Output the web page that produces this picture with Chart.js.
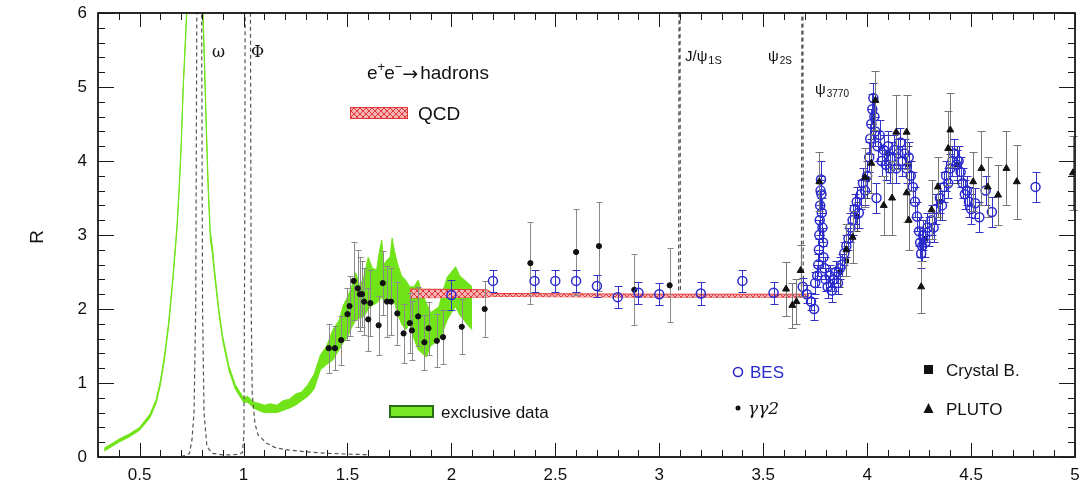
<!DOCTYPE html>
<html><head><meta charset="utf-8">
<script src="https://cdn.jsdelivr.net/npm/chart.js@4/dist/chart.umd.min.js"></script>
<style>html,body{margin:0;padding:0;background:#fff}#wrap{width:1081px;height:491px;position:relative}</style>
</head><body><div id="wrap"><canvas id="c"></canvas></div>
<script>
// ---------- data ----------
const xTicks = [0.5, 1, 1.5, 2, 2.5, 3, 3.5, 4, 4.5, 5];
const yTicks = [0, 1, 2, 3, 4, 5, 6];

// exclusive data band (upper / lower edge)
const greenX  = [0.33,0.36,0.40,0.45,0.50,0.55,0.58,0.60,0.62,0.64,0.66,0.68,0.69,0.70,0.71,0.72,0.73,0.75,0.78,0.80,0.81,0.82,0.83,0.84,0.85,0.86,0.88,0.90,0.93,0.96,1.00,1.02,1.05,1.08,1.10,1.13,1.16,1.19,1.22,1.25,1.28,1.31,1.34,1.37,1.40,1.43,1.46,1.48,1.50,1.52,1.54,1.56,1.58,1.60,1.62,1.64,1.655,1.665,1.675,1.69,1.705,1.715,1.725,1.74,1.76,1.78,1.80,1.82,1.84,1.86,1.88,1.90,1.92,1.94,1.96,1.98,2.00,2.02,2.04,2.06,2.08,2.10];
const greenHi = [0.12,0.17,0.24,0.31,0.40,0.58,0.78,1.03,1.38,1.83,2.43,3.13,3.63,4.23,5.03,5.63,6.25,7.5,7.8,6.4,5.6,4.6,3.7,3.05,2.85,2.55,2.03,1.63,1.23,0.98,0.80,0.82,0.74,0.72,0.70,0.72,0.70,0.76,0.78,0.85,0.88,0.98,1.12,1.38,1.50,1.72,1.85,2.05,2.16,2.30,2.49,2.30,2.45,2.70,2.55,2.53,2.80,2.93,2.60,2.66,2.70,2.96,2.80,2.62,2.45,2.39,2.30,2.30,2.39,2.20,2.08,1.95,1.99,2.03,2.25,2.43,2.50,2.57,2.45,2.40,2.35,2.30];
const greenLo = [0.08,0.13,0.20,0.27,0.36,0.53,0.73,0.97,1.32,1.77,2.37,3.07,3.57,4.17,4.97,5.57,6.15,7.4,7.7,6.3,5.5,4.5,3.6,2.95,2.75,2.47,1.97,1.57,1.17,0.92,0.74,0.74,0.66,0.62,0.60,0.60,0.60,0.63,0.66,0.70,0.76,0.82,0.92,1.18,1.25,1.31,1.45,1.55,1.62,1.75,1.85,1.88,1.90,2.00,2.05,2.08,2.12,2.16,2.10,2.08,2.12,2.16,2.10,1.95,1.80,1.72,1.80,1.60,1.45,1.40,1.35,1.50,1.54,1.58,1.70,1.85,1.95,2.03,1.92,1.85,1.78,1.72];

// QCD band
const qcdX  = [1.80, 2.17, 2.20, 3.00, 3.72];
const qcdHi = [2.27, 2.26, 2.21, 2.20, 2.20];
const qcdLo = [2.15, 2.16, 2.17, 2.16, 2.16];

// resonance curves (dashed): omega + phi, J/psi, psi(2S)
const bwX = [0.70,0.72,0.74,0.752,0.762,0.770,0.776,0.787,0.798,0.803,0.810,0.824,0.85,0.90,0.95,0.98,0.995,1.002,1.006,1.008,1.020,1.033,1.037,1.042,1.055,1.07,1.11,1.15,1.20,1.30,1.40,1.50,1.60];
const bwR = [0.01,0.02,0.05,0.23,0.6,2.0,6.5,10,6.5,2.0,0.6,0.14,0.05,0.03,0.03,0.04,0.06,0.3,3.0,6.5,12,6.5,2.0,0.85,0.45,0.3,0.19,0.13,0.1,0.07,0.05,0.04,0.03];
const jpsiX = [3.093, 3.096, 3.099, 3.102];
const jpsiR = [2.25, 8, 8, 2.25];
const psi2X = [3.684, 3.687, 3.690, 3.693];
const psi2R = [2.30, 8, 8, 2.30];

// BES
const besX = [2.00,2.20,2.40,2.50,2.60,2.70,2.80,2.90,3.00,3.20,3.40,3.55,3.69,3.71,3.73,3.745,3.75,
  3.76,3.765,3.768,3.770,3.772,3.774,3.776,3.778,3.780,3.782,3.785,3.788,3.790,3.795,
  3.80,3.81,3.82,3.83,3.84,3.85,3.86,3.87,3.88,3.89,3.90,3.91,3.92,3.93,3.94,3.95,3.96,3.97,3.98,3.99,4.00,
  4.01,4.015,4.02,4.025,4.03,4.035,4.04,4.045,4.05,4.06,4.07,4.08,4.09,4.10,4.11,4.12,4.13,4.14,4.15,4.16,4.17,4.18,4.19,4.20,4.21,4.22,
  4.23,4.24,4.25,4.255,4.26,4.265,4.27,4.28,4.29,4.30,4.31,4.32,4.33,4.35,4.36,4.37,4.38,4.39,4.40,4.41,4.42,4.43,4.44,4.45,4.46,4.47,4.48,4.49,4.50,4.52,4.54,4.57,4.60,4.81];
const besR = [2.19,2.38,2.38,2.38,2.38,2.31,2.16,2.22,2.20,2.21,2.38,2.22,2.30,2.20,2.10,2.00,2.35,
  2.45,2.60,2.80,3.00,3.20,3.40,3.60,3.75,3.55,3.30,3.10,2.90,2.70,2.55,
  2.40,2.30,2.45,2.25,2.40,2.50,2.35,2.55,2.60,2.75,2.85,2.95,3.10,3.20,3.35,3.45,3.30,3.55,3.70,3.60,3.80,
  4.05,4.30,4.50,4.70,4.85,4.60,4.40,3.50,4.20,4.35,4.00,4.15,3.95,4.20,3.90,4.05,4.15,3.90,4.10,4.25,4.00,4.10,3.90,4.05,3.80,3.65,
  3.45,3.25,3.05,2.90,2.75,2.85,3.00,2.90,3.10,3.05,3.20,3.10,3.35,3.50,3.40,3.65,3.80,3.70,3.90,4.00,4.10,3.95,4.00,3.85,3.70,3.55,3.60,3.45,3.35,3.43,3.24,3.60,3.31,3.65];
const besE = [0.20,0.15,0.15,0.15,0.15,0.15,0.15,0.15,0.15,0.15,0.15,0.15,0.12,0.12,0.12,0.15,0.15,
  0.15,0.15,0.15,0.20,0.20,0.20,0.20,0.25,0.20,0.20,0.20,0.20,0.15,0.15,
  0.15,0.15,0.15,0.15,0.15,0.15,0.15,0.15,0.15,0.15,0.15,0.15,0.20,0.20,0.20,0.20,0.20,0.20,0.20,0.20,0.20,
  0.20,0.20,0.20,0.20,0.20,0.20,0.20,0.20,0.20,0.20,0.20,0.20,0.20,0.20,0.20,0.20,0.20,0.20,0.20,0.20,0.20,0.20,0.20,0.20,0.20,0.20,
  0.20,0.20,0.20,0.20,0.20,0.20,0.20,0.20,0.20,0.20,0.20,0.20,0.20,0.20,0.20,0.20,0.20,0.20,0.20,0.20,0.20,0.20,0.20,0.20,0.20,0.20,0.20,0.20,0.20,0.20,0.20,0.20,0.20,0.20];

// gamma gamma 2
const ggX = [1.41,1.44,1.47,1.50,1.51,1.53,1.55,1.56,1.57,1.58,1.60,1.61,1.65,1.67,1.69,1.71,1.74,1.77,1.80,1.81,1.84,1.87,1.89,1.93,1.96,2.05,2.16,2.38,2.60,2.71,2.88,3.05];
const ggR = [1.47,1.47,1.58,1.93,2.04,2.38,2.28,2.20,2.20,2.10,1.86,2.08,1.78,2.35,2.10,2.10,1.94,1.67,1.81,1.71,1.90,1.55,1.74,1.57,1.62,1.76,2.00,2.62,2.77,2.85,2.26,2.32];
const ggE = [0.33,0.30,0.33,0.35,0.40,0.53,0.52,0.50,0.45,0.45,0.43,0.45,0.40,0.43,0.48,0.45,0.42,0.40,0.40,0.40,0.40,0.37,0.36,0.36,0.36,0.37,0.38,0.55,0.58,0.60,0.48,0.50];

// PLUTO
const plutoX = [3.61,3.64,3.66,3.68,3.77,3.90,3.93,3.99,4.02,4.04,4.08,4.12,4.14,4.19,4.19,4.20,4.26,4.31,4.34,4.39,4.40,4.51,4.55,4.58,4.63,4.67,4.72,4.99];
const plutoR = [2.27,2.05,2.10,2.52,3.72,2.80,2.97,3.78,3.97,4.82,3.40,3.50,4.39,4.39,3.57,3.20,2.30,3.34,3.65,4.17,4.42,3.72,3.90,3.65,3.54,3.90,3.72,3.84];
const plutoE = [0.37,0.30,0.30,0.35,0.40,0.35,0.35,0.40,0.40,0.40,0.40,0.50,0.50,0.50,0.40,0.40,0.35,0.40,0.40,0.50,0.50,0.40,0.50,0.40,0.40,0.50,0.50,0.50];

// Crystal Ball
const cbX = [3.87,3.90,3.95,4.00,4.03,4.10,4.20,4.28,4.35,4.43];
const cbR = [2.50,2.65,3.25,3.75,4.55,4.10,3.95,2.95,3.45,3.95];
const cbE = [0.20,0.20,0.20,0.25,0.25,0.25,0.25,0.25,0.25,0.25];

// ---------- helpers ----------
const pts = (xs, ys) => xs.map((x, i) => ({x: x, y: ys[i]}));
const FONT = '"Liberation Sans", Arial, Helvetica, sans-serif';

function hatch() {
  const c = document.createElement('canvas'); c.width = 6; c.height = 6;
  const g = c.getContext('2d');
  g.fillStyle = '#f7b3b3'; g.fillRect(0, 0, 6, 6);
  g.strokeStyle = '#e23a3a'; g.lineWidth = 1;
  g.beginPath(); g.moveTo(0, 6); g.lineTo(6, 0); g.moveTo(0, 0); g.lineTo(6, 6); g.stroke();
  return g.createPattern(c, 'repeat');
}
const QCDPAT = hatch();
const GREEN = 'rgb(112,228,24)';

// error bars, drawn just before each marker dataset (no clipping needed: all bars lie inside 0..6)
const errPlugin = {
  id: 'errbars',
  beforeDatasetDraw(chart, args) {
    const ds = chart.data.datasets[args.index];
    if (!ds.errors) return;
    const xs = chart.scales.x, ys = chart.scales.y, ctx = chart.ctx;
    ctx.save();
    ctx.strokeStyle = ds.errColor; ctx.lineWidth = 1;
    ctx.beginPath();
    ds.data.forEach((p, i) => {
      const e = ds.errors[i];
      const px = Math.round(xs.getPixelForValue(p.x)) + 0.5;
      const y1 = Math.round(ys.getPixelForValue(p.y + e)) + 0.5;
      const y2 = Math.round(ys.getPixelForValue(p.y - e)) + 0.5;
      const c = ds.capW;
      ctx.moveTo(px, y1); ctx.lineTo(px, y2);
      ctx.moveTo(px - c, y1); ctx.lineTo(px + c, y1);
      ctx.moveTo(px - c, y2); ctx.lineTo(px + c, y2);
    });
    ctx.stroke();
    ctx.restore();
  }
};

function drawFrame(chart) {
  const ctx = chart.ctx, a = chart.chartArea, xs = chart.scales.x, ys = chart.scales.y;
  ctx.save();
  ctx.setLineDash([]);
  ctx.strokeStyle = '#1a1a1a'; ctx.lineWidth = 1.4;
  ctx.beginPath();
  ctx.rect(a.left, a.top, a.right - a.left, a.bottom - a.top);
  ctx.stroke();
  ctx.lineWidth = 1;
  ctx.beginPath();
  for (let k = 3; k <= 50; k++) {
    const px = Math.round(xs.getPixelForValue(k / 10)) + 0.5;
    const L = (k % 5 === 0) ? 14 : 7;
    ctx.moveTo(px, a.bottom); ctx.lineTo(px, a.bottom - L);
    ctx.moveTo(px, a.top); ctx.lineTo(px, a.top + L);
  }
  for (let k = 0; k <= 30; k++) {
    const py = Math.round(ys.getPixelForValue(k / 5)) + 0.5;
    const L = (k % 5 === 0) ? 16 : 7;
    ctx.moveTo(a.left, py); ctx.lineTo(a.left + L, py);
    ctx.moveTo(a.right, py); ctx.lineTo(a.right - L, py);
  }
  ctx.stroke();
  ctx.restore();
}

function subText(ctx, x, y, main, sub, fs, ss, dy) {
  ctx.font = fs + 'px ' + FONT; ctx.fillText(main, x, y);
  const w = ctx.measureText(main).width;
  ctx.font = ss + 'px ' + FONT; ctx.fillText(sub, x + w + 1, y + dy);
}

const decoPlugin = {
  id: 'deco',
  afterDatasetsDraw(chart) { drawFrame(chart); },
  afterDraw(chart) {
    const ctx = chart.ctx, a = chart.chartArea, xs = chart.scales.x, ys = chart.scales.y;
    ctx.save();
    ctx.fillStyle = '#111';
    ctx.font = '17px ' + FONT;
    ctx.textAlign = 'center'; ctx.textBaseline = 'middle';
    xTicks.forEach(v => ctx.fillText(String(v), xs.getPixelForValue(v), a.bottom + 18));
    ctx.textAlign = 'right';
    yTicks.forEach(v => ctx.fillText(String(v), a.left - 11, ys.getPixelForValue(v)));

    ctx.save(); ctx.translate(38, 237); ctx.rotate(-Math.PI / 2);
    ctx.textAlign = 'center'; ctx.font = '19px ' + FONT; ctx.fillText('R', 0, 0); ctx.restore();

    ctx.textAlign = 'left'; ctx.textBaseline = 'alphabetic';
    ctx.font = '16px "DejaVu Serif", serif';
    ctx.fillText('ω', 212, 57);
    ctx.fillText('Φ', 251, 57);
    subText(ctx, 685, 61, 'J/ψ', '1S', 15, 11, 3);
    subText(ctx, 768, 61, 'ψ', '2S', 15, 10, 3);
    subText(ctx, 815, 94, 'ψ', '3770', 15, 10, 3);

    ctx.font = '19px ' + FONT;
    let x = 367; const y = 79;
    ctx.fillText('e', x, y); x += ctx.measureText('e').width;
    ctx.font = '13px ' + FONT; ctx.fillText('+', x, y - 8); x += ctx.measureText('+').width - 1;
    ctx.font = '19px ' + FONT; ctx.fillText('e', x, y); x += ctx.measureText('e').width;
    ctx.font = '13px ' + FONT; ctx.fillText('−', x, y - 8); x += ctx.measureText('−').width;
    ctx.font = '19px "DejaVu Sans", sans-serif'; ctx.fillText('→', x, y + 1); x += ctx.measureText('→').width + 2;
    ctx.font = '19px ' + FONT; ctx.fillText('hadrons', x, y);

    ctx.fillStyle = QCDPAT; ctx.fillRect(350, 107, 58, 12);
    ctx.strokeStyle = '#e23a3a'; ctx.lineWidth = 1; ctx.strokeRect(350.5, 107.5, 57, 11);
    ctx.fillStyle = '#111'; ctx.font = '19px ' + FONT; ctx.fillText('QCD', 418, 120);

    ctx.fillStyle = 'rgb(120,232,40)'; ctx.fillRect(390, 406, 43, 11);
    ctx.strokeStyle = 'rgb(40,110,20)'; ctx.lineWidth = 2; ctx.strokeRect(390, 406, 43, 11);
    ctx.lineWidth = 1;
    ctx.fillStyle = '#111'; ctx.font = '17px ' + FONT; ctx.fillText('exclusive data', 441, 418);

    ctx.strokeStyle = '#2a2ad0'; ctx.lineWidth = 1.6;
    ctx.beginPath(); ctx.arc(738, 372, 4.5, 0, Math.PI * 2); ctx.stroke();
    ctx.fillStyle = '#2a2ad0'; ctx.font = '17px ' + FONT; ctx.fillText('BES', 750, 378);
    ctx.fillStyle = '#111';
    ctx.beginPath(); ctx.arc(738, 408, 2.5, 0, Math.PI * 2); ctx.fill();
    ctx.font = 'italic 17px "DejaVu Serif", serif'; ctx.fillText('γγ2', 748, 414);
    ctx.fillRect(924, 365, 9, 9);
    ctx.font = '17px ' + FONT; ctx.fillText('Crystal B.', 946, 376);
    ctx.beginPath(); ctx.moveTo(928.5, 403); ctx.lineTo(933.5, 413); ctx.lineTo(923.5, 413); ctx.closePath(); ctx.fill();
    ctx.fillText('PLUTO', 946, 415);
    ctx.restore();
    drawFrame(chart);
  }
};

const dashed = (xs, ys) => ({
  type: 'line', data: pts(xs, ys), borderColor: '#555', borderWidth: 1.2, borderDash: [4, 3],
  pointRadius: 0, fill: false, tension: 0, order: 12
});

const config = {
  type: 'scatter',
  data: {
    datasets: [
      { type: 'line', label: 'exclusive hi', data: pts(greenX, greenHi), borderColor: GREEN, borderWidth: 1,
        backgroundColor: GREEN, fill: '+1', pointRadius: 0, tension: 0, order: 20 },
      { type: 'line', label: 'exclusive lo', data: pts(greenX, greenLo), borderColor: GREEN, borderWidth: 1,
        fill: false, pointRadius: 0, tension: 0, order: 20 },
      { type: 'line', label: 'QCD hi', data: pts(qcdX, qcdHi), borderColor: '#e23a3a', borderWidth: 1,
        backgroundColor: QCDPAT, fill: '+1', pointRadius: 0, tension: 0, order: 15 },
      { type: 'line', label: 'QCD lo', data: pts(qcdX, qcdLo), borderColor: '#e23a3a', borderWidth: 1,
        fill: false, pointRadius: 0, tension: 0, order: 15 },
      dashed(bwX, bwR),
      dashed(jpsiX, jpsiR),
      dashed(psi2X, psi2R),
      { label: 'Crystal B.', data: pts(cbX, cbR), errors: cbE, errColor: '#444', capW: 3,
        pointStyle: 'rect', pointRadius: 3, backgroundColor: '#111', borderColor: '#111', order: 4 },
      { label: 'gg2', data: pts(ggX, ggR), errors: ggE, errColor: '#8a8a8a', capW: 3,
        pointStyle: 'circle', pointRadius: 2.6, backgroundColor: '#111', borderColor: '#111', order: 3 },
      { label: 'BES', data: pts(besX, besR), errors: besE, errColor: '#3333c8', capW: 4,
        pointStyle: 'circle', pointRadius: 4.5, backgroundColor: 'rgba(0,0,0,0)', borderColor: '#2a2ad0', borderWidth: 1.5, order: 2 },
      { label: 'PLUTO', data: pts(plutoX, plutoR), errors: plutoE, errColor: '#777', capW: 4,
        pointStyle: 'triangle', pointRadius: 4, backgroundColor: '#111', borderColor: '#111', order: 1 }
    ]
  },
  options: {
    responsive: true, maintainAspectRatio: false, animation: false,
    layout: { padding: { left: 98, right: 5, top: 13, bottom: 34 } },
    scales: {
      x: { type: 'linear', min: 0.3, max: 5, display: false },
      y: { type: 'linear', min: 0, max: 6, display: false }
    },
    plugins: { legend: { display: false }, tooltip: { enabled: false } },
    events: []
  },
  plugins: [errPlugin, decoPlugin]
};
new Chart(document.getElementById('c'), config);
</script></body></html>
